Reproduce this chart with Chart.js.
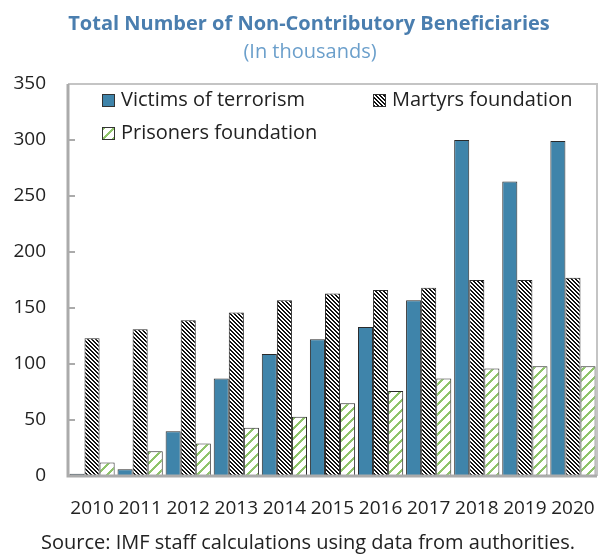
<!DOCTYPE html>
<html>
<head>
<meta charset="utf-8">
<script src="https://cdn.jsdelivr.net/npm/chart.js@4"></script>
<style>
html,body{margin:0;padding:0;background:#fff;}
#wrap{width:599px;height:554px;position:relative;}
</style>
</head>
<body>
<div id="wrap"><canvas id="c" width="599" height="554"></canvas></div>
<script>
const years = ['2010','2011','2012','2013','2014','2015','2016','2017','2018','2019','2020'];
const victims = [2, 6, 40, 87, 109, 122, 133, 157, 300, 263, 299];
const martyrs = [123, 131, 139, 146, 157, 163, 166, 168, 175, 175, 177];
const prisoners = [12, 22, 29, 43, 53, 65, 76, 87, 96, 98, 98];
const seriesNames = ['Victims of terrorism', 'Martyrs foundation', 'Prisoners foundation'];
const yTicks = [0, 50, 100, 150, 200, 250, 300, 350];
const titleText = 'Total Number of Non-Contributory Beneficiaries';
const subtitleText = '(In thousands)';
const sourceText = 'Source: IMF staff calculations using data from authorities.';

const FONT = '"Open Sans", "Noto Sans", sans-serif';
const BLUE = '#3f84aa';
const GREEN = '#8fc46a';
const AXIS = '#ababab';

function makePattern(size, fn, fg){
  const c = document.createElement('canvas');
  c.width = size; c.height = size;
  const x = c.getContext('2d');
  x.fillStyle = '#fff'; x.fillRect(0,0,size,size);
  x.fillStyle = fg;
  for (let i=0;i<size;i++) for (let j=0;j<size;j++) if (fn(i,j)) x.fillRect(i,j,1,1);
  return x.createPattern(c, 'repeat');
}
const ctx0 = document.getElementById('c').getContext('2d');
const martyrsPat = makePattern(8, (i,j)=>(((i-j)%4)+4)%4 < 2, '#111');
const prisonersPat = makePattern(10, (i,j)=>((i+j)%10) < 3, GREEN);
const fills = [BLUE, martyrsPat, prisonersPat];

const decor = {
  id: 'decor',
  afterDraw(chart){
    const c = chart.ctx, a = chart.chartArea, y = chart.scales.y;
    c.save();
    // titles
    c.textAlign = 'center'; c.textBaseline = 'middle';
    c.fillStyle = '#4a7eaf';
    c.font = 'bold 20px ' + FONT;
    c.fillText(titleText, 309, 24);
    c.fillStyle = '#6b9fcb';
    c.font = '20px ' + FONT;
    c.fillText(subtitleText, 310, 52);
    // source
    c.fillStyle = '#222';
    c.font = '20px ' + FONT;
    c.fillText(sourceText, 308, 543);
    // frame
    c.strokeStyle = '#c4c4c4'; c.lineWidth = 2;
    c.beginPath();
    c.moveTo(a.left, a.top); c.lineTo(a.right, a.top); c.lineTo(a.right, a.bottom);
    c.stroke();
    c.strokeStyle = AXIS; c.lineWidth = 3;
    c.beginPath();
    c.moveTo(a.left, a.top); c.lineTo(a.left, a.bottom); c.lineTo(a.right, a.bottom);
    c.stroke();
    // inward ticks
    c.lineWidth = 2;
    yTicks.forEach(v=>{
      if (v===0 || v===350) return;
      const py = Math.round(y.getPixelForValue(v));
      c.beginPath(); c.moveTo(a.left, py); c.lineTo(a.left+7, py); c.stroke();
    });
    // legend
    const items = [
      {x:102, y:100, i:0},
      {x:373, y:100, i:1},
      {x:102, y:133, i:2}
    ];
    c.font = '20px ' + FONT;
    c.textAlign = 'left';
    items.forEach(it=>{
      c.fillStyle = fills[it.i];
      c.fillRect(it.x, it.y-6, 12, 12);
      c.strokeStyle = '#333'; c.lineWidth = 1;
      c.strokeRect(it.x+0.5, it.y-5.5, 12, 12);
      c.fillStyle = '#222';
      c.fillText(seriesNames[it.i], it.x + 19, it.y);
    });
    c.restore();
  }
};

new Chart(ctx0, {
  type: 'bar',
  data: {
    labels: years,
    datasets: [
      {label: seriesNames[0], data: victims, backgroundColor: fills[0], borderColor: '#2a2a2a', borderWidth: 1},
      {label: seriesNames[1], data: martyrs, backgroundColor: fills[1], borderColor: '#2a2a2a', borderWidth: 1},
      {label: seriesNames[2], data: prisoners, backgroundColor: fills[2], borderColor: '#2a2a2a', borderWidth: 1}
    ]
  },
  options: {
    responsive: false,
    animation: false,
    layout: {padding: {top: 84, right: 2, bottom: 0, left: 0}},
    datasets: {bar: {categoryPercentage: 0.94, barPercentage: 1}},
    plugins: {legend: {display: false}, title: {display: false}, tooltip: {enabled: false}},
    scales: {
      x: {
        grid: {display: false, drawTicks: true, tickLength: 21},
        border: {display: false},
        ticks: {color: '#222', font: {family: FONT, size: 19}, padding: 0, maxRotation: 0, autoSkip: false},
        afterFit(s){ s.height = 78; }
      },
      y: {
        min: 0, max: 350,
        afterBuildTicks(s){ s.ticks = yTicks.map(v=>({value:v})); },
        grid: {display: false, drawTicks: true, tickLength: 22},
        border: {display: false},
        ticks: {color: '#222', font: {family: FONT, size: 19}, padding: 0},
        afterFit(s){ s.width = 68; }
      }
    }
  },
  plugins: [decor]
});
</script>
</body>
</html>
